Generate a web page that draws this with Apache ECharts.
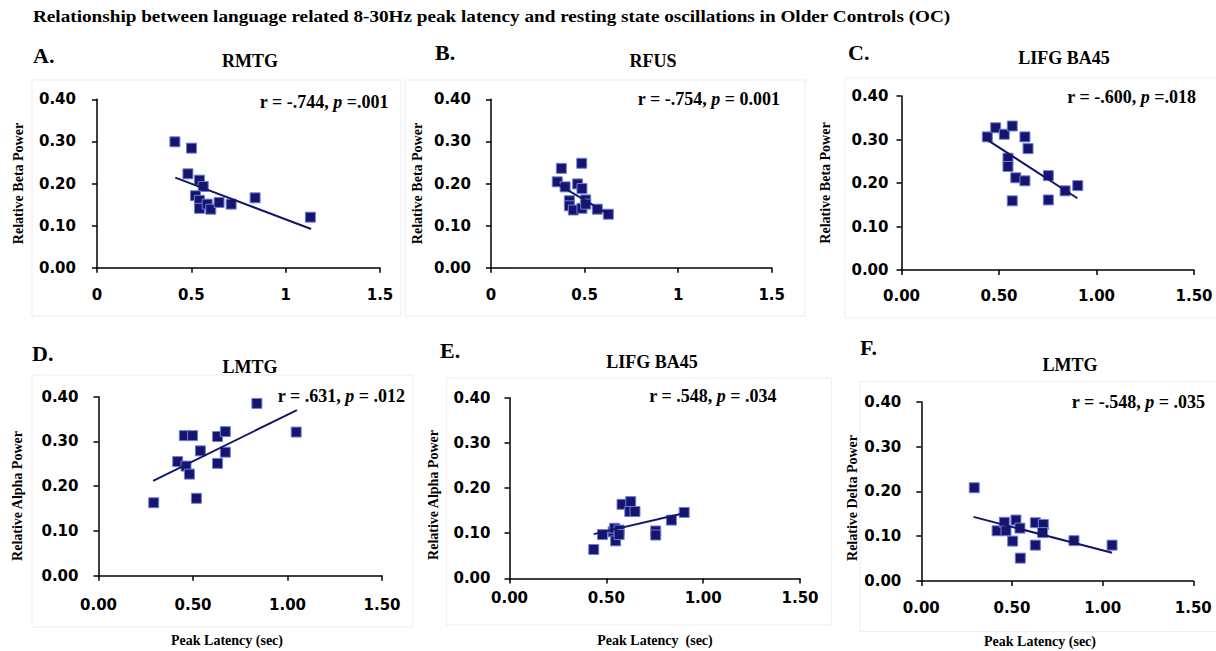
<!DOCTYPE html>
<html><head><meta charset="utf-8">
<script src="https://cdn.jsdelivr.net/npm/echarts@6/dist/echarts.min.js"></script>
<style>html,body{margin:0;padding:0;background:#fff}#c{width:1216px;height:651px}</style>
</head><body><div id="c"></div>
<script>
// ---------- DATA ----------
const mainTitle = 'Relationship between language related 8-30Hz peak latency and resting state oscillations in Older Controls (OC)';
const panelLetters = ['A.', 'B.', 'C.', 'D.', 'E.', 'F.'];
const regions = ['RMTG', 'RFUS', 'LIFG BA45', 'LMTG', 'LIFG BA45', 'LMTG'];
const yNames = ['Relative Beta Power', 'Relative Beta Power', 'Relative Beta Power', 'Relative Alpha Power', 'Relative Alpha Power', 'Relative Delta Power'];
const xNames = ['', '', '', 'Peak Latency (sec)', 'Peak Latency  (sec)', 'Peak Latency (sec)'];
const statR = ['r = -.744, ', 'r = -.754, ', 'r = -.600, ', 'r = .631, ', 'r = .548, ', 'r = -.548, '];
const statP = [' =.001', ' = 0.001', ' =.018', ' = .012', ' = .034', ' = .035'];
const xTicks = [0, 0.5, 1, 1.5];
const yTicks = [0, 0.1, 0.2, 0.3, 0.4];
const xDecimals = [-1, -1, 2, 2, 2, 2]; // -1 = plain numbers

const dataA = [[0.413,0.299],[0.501,0.284],[0.482,0.223],[0.543,0.208],[0.563,0.193],[0.522,0.171],[0.543,0.160],[0.543,0.141],[0.584,0.151],[0.603,0.139],[0.647,0.155],[0.711,0.151],[0.838,0.166],[1.131,0.120]];
const trendA = [[0.415,0.214],[1.135,0.092]];
const dataB = [[0.376,0.236],[0.485,0.248],[0.354,0.204],[0.396,0.192],[0.463,0.199],[0.486,0.188],[0.419,0.159],[0.419,0.147],[0.440,0.137],[0.486,0.141],[0.506,0.161],[0.506,0.151],[0.568,0.139],[0.627,0.127]];
const trendB = [[0.354,0.199],[0.627,0.127]];
const dataC = [[0.440,0.306],[0.483,0.327],[0.527,0.312],[0.568,0.331],[0.633,0.306],[0.649,0.279],[0.546,0.257],[0.546,0.238],[0.586,0.212],[0.633,0.205],[0.568,0.159],[0.753,0.217],[0.753,0.161],[0.839,0.182],[0.904,0.194]];
const trendC = [[0.440,0.299],[0.902,0.165]];
const dataD = [[0.292,0.163],[0.419,0.255],[0.454,0.313],[0.498,0.313],[0.463,0.245],[0.481,0.227],[0.539,0.279],[0.518,0.173],[0.630,0.311],[0.671,0.322],[0.671,0.276],[0.630,0.251],[0.838,0.385],[1.046,0.321]];
const trendD = [[0.289,0.212],[1.050,0.370]];
const dataE = [[0.435,0.064],[0.480,0.097],[0.535,0.103],[0.543,0.111],[0.548,0.083],[0.566,0.107],[0.566,0.097],[0.581,0.164],[0.626,0.170],[0.621,0.148],[0.648,0.148],[0.755,0.105],[0.755,0.096],[0.836,0.129],[0.902,0.146]];
const trendE = [[0.435,0.098],[0.900,0.144]];
const dataF = [[0.292,0.208],[0.418,0.112],[0.458,0.131],[0.467,0.112],[0.522,0.136],[0.544,0.118],[0.504,0.089],[0.546,0.051],[0.629,0.130],[0.673,0.126],[0.669,0.108],[0.629,0.080],[0.842,0.090],[1.052,0.080]];
const trendF = [[0.288,0.143],[1.052,0.063]];

const scatterData = [dataA, dataB, dataC, dataD, dataE, dataF];
const trendData = [trendA, trendB, trendC, trendD, trendE, trendF];

// ---------- LAYOUT ----------
const grids = [
  {left: 97, top: 99.3, width: 283, height: 168.4},
  {left: 491, top: 99.3, width: 280.7, height: 168.4},
  {left: 901.5, top: 96, width: 292.5, height: 174},
  {left: 98.5, top: 396.7, width: 283.5, height: 179},
  {left: 509.5, top: 397.7, width: 290.5, height: 180.7},
  {left: 921.3, top: 401.7, width: 272, height: 179.3}
];
const xLabelMargin = [20, 20, 18, 22, 12.5, 19.5];
const yLabelMargin = [21, 20, 13, 20, 19, 20];
const yNamePos = [[18.5, 183.5], [417, 183.5], [825, 183], [17.5, 496], [433, 495], [852, 498]];
const xNamePos = [[0,0],[0,0],[0,0],[227, 640.5], [655, 640], [1040, 641.5]];
const letterPos = [[33, 55], [435, 52], [848, 52], [32, 353], [440, 350], [860, 347]];
const regionPos = [[250, 60.7], [653, 60.7], [1064, 58.3], [250, 366.7], [652, 361.7], [1070, 365]];
const statPos = [[388.5, 101.7], [780, 99.3], [1196, 96.7], [405, 395.7], [776.5, 395.7], [1205, 401.7]];
const boxes = [[32, 80, 369, 236], [405, 80, 400, 236], [845, 78, 380, 240], [32, 375, 381, 252], [446.7, 378, 385, 247], [860, 381.7, 380, 250]];

const serif = '"Liberation Serif", "Times New Roman", serif';
const sans = '"DejaVu Sans", sans-serif';
const navy = '#17156b';

const chart = echarts.init(document.getElementById('c'), null, {renderer: 'svg'});

const xAxis = [], yAxis = [], series = [], graphic = [];
grids.forEach((g, i) => {
  xAxis.push({
    type: 'value', gridIndex: i, min: xTicks[0], max: xTicks[xTicks.length - 1],
    interval: xTicks[1] - xTicks[0],
    axisLine: {lineStyle: {color: '#000', width: 1.5}},
    axisTick: {show: true, length: 5, lineStyle: {color: '#000', width: 1.5}},
    splitLine: {show: false},
    axisLabel: {
      margin: xLabelMargin[i], color: '#000', fontFamily: sans, fontWeight: 'bold', fontSize: 15,
      formatter: v => xDecimals[i] < 0 ? String(v) : v.toFixed(xDecimals[i])
    }
  });
  yAxis.push({
    type: 'value', gridIndex: i, min: yTicks[0], max: yTicks[yTicks.length - 1],
    interval: yTicks[1] - yTicks[0],
    axisLine: {show: true, lineStyle: {color: '#000', width: 1.5}},
    axisTick: {show: true, length: 5, lineStyle: {color: '#000', width: 1.5}},
    splitLine: {show: false},
    axisLabel: {margin: yLabelMargin[i], color: '#000', fontFamily: sans, fontWeight: 'bold', fontSize: 15,
      formatter: v => v.toFixed(2)}
  });
  series.push({
    type: 'scatter', xAxisIndex: i, yAxisIndex: i, data: scatterData[i],
    symbol: 'rect', symbolSize: 10, z: 2,
    itemStyle: {color: navy, borderColor: '#6c7fe0', borderWidth: 1, opacity: 1}
  });
  series.push({
    type: 'line', xAxisIndex: i, yAxisIndex: i, data: trendData[i],
    showSymbol: false, symbol: 'none', z: 3, silent: true,
    lineStyle: {color: navy, width: 2}
  });
  const b = boxes[i];
  graphic.push({type: 'rect', z: -10, shape: {x: b[0], y: b[1], width: b[2], height: b[3]},
    style: {fill: 'none', stroke: '#ededed', lineWidth: 1}});
  graphic.push({type: 'text', x: yNamePos[i][0], y: yNamePos[i][1], rotation: Math.PI / 2,
    style: {text: yNames[i], fill: '#000', font: 'bold 14px ' + serif, align: 'center', verticalAlign: 'middle'}});
  if (xNames[i]) {
    graphic.push({type: 'text', x: xNamePos[i][0], y: xNamePos[i][1],
      style: {text: xNames[i], fill: '#000', font: 'bold 14px ' + serif, align: 'center', verticalAlign: 'middle'}});
  }
  graphic.push({type: 'text', x: letterPos[i][0], y: letterPos[i][1],
    style: {text: panelLetters[i], fill: '#000', font: 'bold 22px ' + serif, align: 'left', verticalAlign: 'middle'}});
  graphic.push({type: 'text', x: regionPos[i][0], y: regionPos[i][1],
    style: {text: regions[i], fill: '#000', font: 'bold 18px ' + serif, align: 'center', verticalAlign: 'middle'}});
  graphic.push({type: 'text', x: statPos[i][0], y: statPos[i][1],
    style: {
      text: '{n|' + statR[i] + '}{i|p}{n|' + statP[i] + '}',
      align: 'right', verticalAlign: 'middle',
      rich: {
        n: {fontFamily: serif, fontWeight: 'bold', fontSize: 18, fill: '#000', color: '#000'},
        i: {fontFamily: serif, fontWeight: 'bold', fontStyle: 'italic', fontSize: 18, fill: '#000', color: '#000'}
      }
    }});
});
graphic.push({type: 'text', x: 33, y: 17, scaleX: 1.2,
  style: {text: mainTitle, fill: '#000', font: 'bold 16px ' + serif, align: 'left', verticalAlign: 'middle'}});

chart.setOption({
  animation: false,
  backgroundColor: '#fff',
  grid: grids.map(g => Object.assign({containLabel: false}, g)),
  xAxis, yAxis, series, graphic
});
</script></body></html>
